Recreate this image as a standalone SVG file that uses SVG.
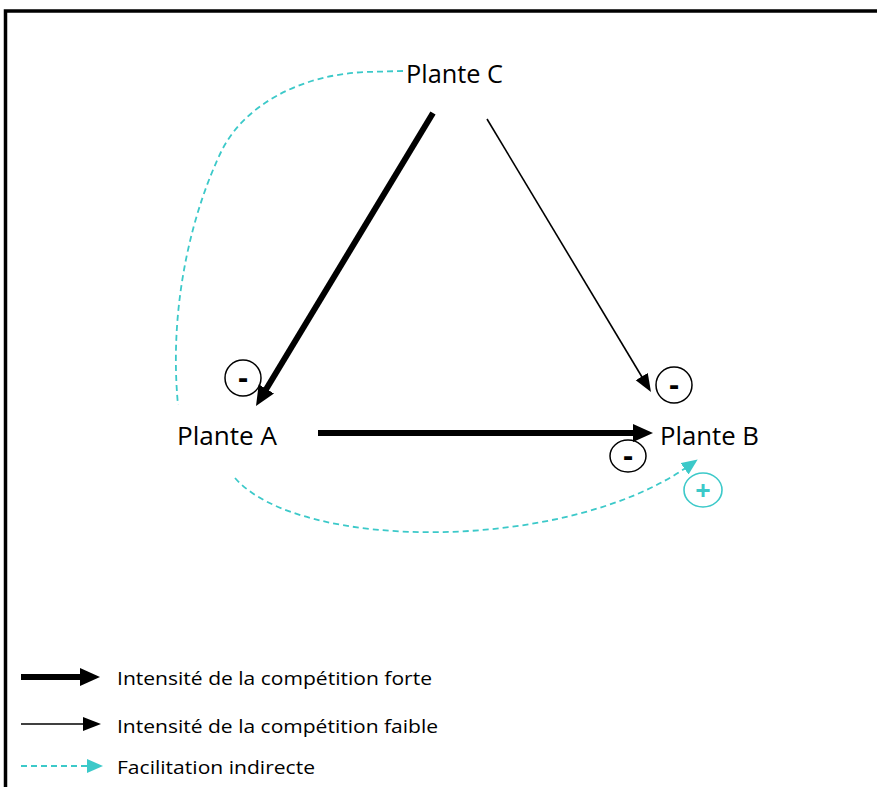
<svg xmlns="http://www.w3.org/2000/svg" width="877" height="787" viewBox="0 0 877 787">
<defs>
<style>
text{font-family:"Open Sans","Liberation Sans",sans-serif;fill:#000}
.lbl{font-size:25px}
.leg{font-size:18px}
.sign{font-size:30px;font-weight:bold;text-anchor:middle}
.thick{stroke:#000;stroke-width:6;fill:none}
.thin{stroke:#000;stroke-width:1.6;fill:none}
.dash{stroke:#3cc9c9;stroke-width:1.8;fill:none;stroke-dasharray:6 4}
.circ{fill:none;stroke:#000;stroke-width:1.5}
</style>
<marker id="hThick" markerUnits="userSpaceOnUse" markerWidth="21" markerHeight="19" refX="4" refY="9" orient="auto"><path d="M0,0 L20,9 L0,18 z" fill="#000"/></marker>
<marker id="hThin" markerUnits="userSpaceOnUse" markerWidth="19" markerHeight="15" refX="4" refY="7" orient="auto"><path d="M0,0 L18,7 L0,14 z" fill="#000"/></marker>
<marker id="hCyan" markerUnits="userSpaceOnUse" markerWidth="17" markerHeight="15" refX="3" refY="7" orient="auto"><path d="M0,0 L16,7 L0,14 z" fill="#3cc9c9"/></marker>
</defs>
<rect width="877" height="787" fill="#fff"/>
<path d="M5.5,787 L5.5,11 L877,11" fill="none" stroke="#000" stroke-width="3.5"/>

<g id="connectors">
<line class="thick" x1="433" y1="113" x2="264.3" y2="392.3" marker-end="url(#hThick)"/>
<line class="thin" x1="487" y1="119" x2="643.8" y2="380" marker-end="url(#hThin)"/>
<line class="thick" x1="318" y1="433" x2="637" y2="433" marker-end="url(#hThick)"/>
<path class="dash" d="M403,71 L365,72 C300,75 245,105 222,150 C195,205 168,300 178,405"/>
<path class="dash" d="M235,478 C300,552 565,552 687,467" marker-end="url(#hCyan)"/>
</g>

<g id="plante-c"><text class="lbl" x="406" y="83" textLength="97" lengthAdjust="spacingAndGlyphs">Plante C</text></g>
<g id="plante-a"><text class="lbl" x="177" y="445" textLength="100" lengthAdjust="spacingAndGlyphs">Plante A</text></g>
<g id="plante-b"><text class="lbl" x="660" y="445" textLength="99" lengthAdjust="spacingAndGlyphs">Plante B</text></g>

<g id="sign-ca"><ellipse class="circ" cx="243" cy="378" rx="18" ry="18"/><text class="sign" x="243" y="388">-</text></g>
<g id="sign-cb"><ellipse class="circ" cx="674" cy="385" rx="18" ry="18"/><text class="sign" x="674" y="395">-</text></g>
<g id="sign-ab"><ellipse class="circ" cx="628" cy="456" rx="18" ry="16"/><text class="sign" x="628" y="466">-</text></g>
<g id="sign-plus"><ellipse cx="703" cy="490" rx="19" ry="17" fill="none" stroke="#3cc9c9" stroke-width="1.6"/><text class="sign" x="703" y="500" style="fill:#3cc9c9;font-size:27px">+</text></g>

<g id="legend">
<line class="thick" x1="21" y1="677" x2="84" y2="677" stroke-width="5" marker-end="url(#hThick)"/>
<line class="thin" x1="21" y1="724" x2="87" y2="724" marker-end="url(#hThin)"/>
<line class="dash" x1="21" y1="766" x2="90" y2="766" marker-end="url(#hCyan)"/>
<text class="leg" x="117" y="685" textLength="315" lengthAdjust="spacingAndGlyphs">Intensité de la compétition forte</text>
<text class="leg" x="117" y="733" textLength="321" lengthAdjust="spacingAndGlyphs">Intensité de la compétition faible</text>
<text class="leg" x="117" y="774" textLength="198" lengthAdjust="spacingAndGlyphs">Facilitation indirecte</text>
</g>
</svg>
